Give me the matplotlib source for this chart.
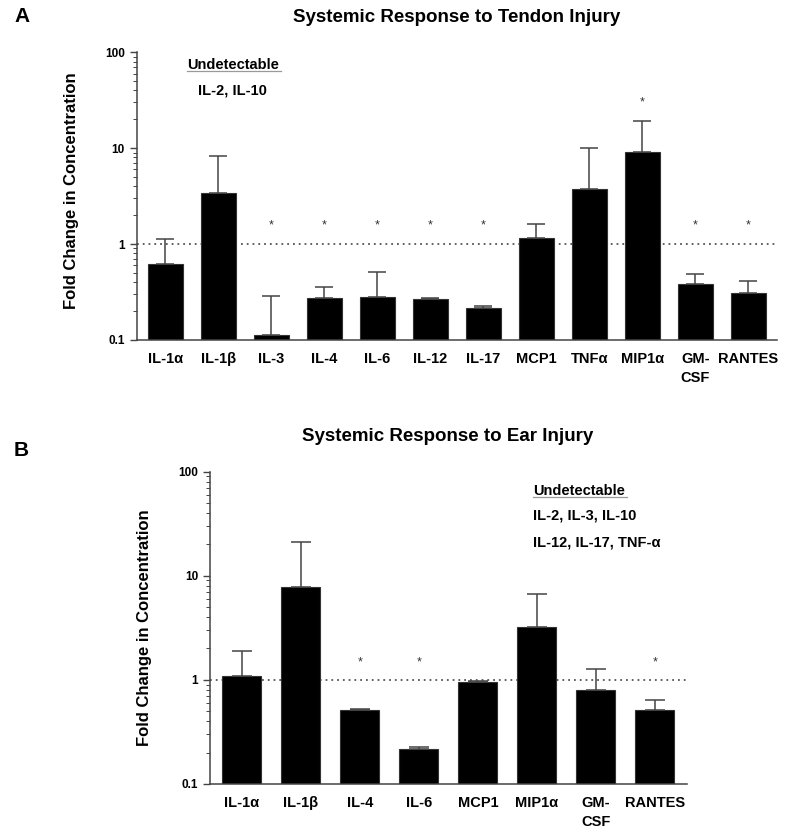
import numpy as np
import matplotlib.pyplot as plt
from matplotlib.lines import Line2D

plt.rcParams['font.family'] = ['Liberation Sans', 'DejaVu Sans']
plt.rcParams['font.weight'] = 'bold'

# Panel A: tendon injury
cyto_a = ['IL-1α', 'IL-1β', 'IL-3', 'IL-4', 'IL-6', 'IL-12', 'IL-17',
          'MCP1', 'TNFα', 'MIP1α', 'GM-\nCSF', 'RANTES']
mean_a = [0.625, 3.43, 0.112, 0.274, 0.28, 0.264, 0.216, 1.17, 3.74, 9.1, 0.387, 0.309]
upper_a = [1.14, 8.26, 0.285, 0.354, 0.507, 0.274, 0.228, 1.63, 10.1, 19.3, 0.483, 0.412]
star_a = [False, False, True, True, True, True, True, False, False, True, True, True]
star_y_a = [1.57, 1.57, 1.57, 1.57, 1.57, 1.57, 1.57, 1.57, 1.57, 30, 1.57, 1.57]

# Panel B: ear injury
cyto_b = ['IL-1α', 'IL-1β', 'IL-4', 'IL-6', 'MCP1', 'MIP1α', 'GM-\nCSF', 'RANTES']
mean_b = [1.09, 7.79, 0.515, 0.217, 0.956, 3.21, 0.80, 0.51]
upper_b = [1.91, 20.9, 0.53, 0.227, 0.97, 6.67, 1.27, 0.638]
star_b = [False, False, True, True, False, False, False, True]
star_y_b = [1.48] * 8


def panel(ax, names, mean, upper, stars, star_y, cap):
    x = np.arange(len(names))
    mean = np.array(mean)
    err = np.array(upper) - mean
    ax.bar(x, mean, width=0.66, color='black', edgecolor='#333333', linewidth=0.8)
    ax.errorbar(x, mean, yerr=[np.zeros_like(err), err], fmt='none',
                ecolor='#444444', elinewidth=1.1, capsize=cap, capthick=1.1)
    ax.axhline(1, color='#555555', linestyle=(0, (1, 2.2)), linewidth=1.3, zorder=0)
    for xi, s, sy in zip(x, stars, star_y):
        if s:
            ax.text(xi, sy, '*', ha='center', va='center', fontsize=9,
                    color='#333333', fontweight='normal')
    ax.set_yscale('log')
    ax.set_ylim(0.1, 100)
    ax.set_xlim(-0.54, len(names) - 0.46)
    ax.set_yticks([0.1, 1, 10, 100])
    ax.set_yticklabels(['0.1', '1', '10', '100'], fontsize=8.5, fontweight='bold')
    ax.set_xticks(x)
    ax.set_xticklabels(names, fontsize=10.5, fontweight='bold', linespacing=1.45,
                       va='top')
    ax.tick_params(axis='x', length=0, pad=9)
    ax.tick_params(axis='y', which='major', length=5, width=1, color='#444444')
    ax.tick_params(axis='y', which='minor', length=3, width=0.7, color='#444444')
    for sp in ['top', 'right']:
        ax.spines[sp].set_visible(False)
    for sp in ['left', 'bottom']:
        ax.spines[sp].set_color('#444444')
        ax.spines[sp].set_linewidth(1.1)
    ax.set_ylabel('Fold Change in Concentration', fontsize=12, fontweight='bold')


fig = plt.figure(figsize=(8, 8.31), dpi=100)
ax_a = fig.add_axes([0.171, 0.591, 0.80, 0.346])
ax_b = fig.add_axes([0.2625, 0.0566, 0.596, 0.376])

panel(ax_a, cyto_a, mean_a, upper_a, star_a, star_y_a, 6.5)
panel(ax_b, cyto_b, mean_b, upper_b, star_b, star_y_b, 7)
ax_a.yaxis.set_label_coords(-0.09, 0.52)
ax_b.yaxis.set_label_coords(-0.122, 0.5)

fig.text(0.571, 1 - 17 / 831, 'Systemic Response to Tendon Injury',
         ha='center', va='center', fontsize=13.5, fontweight='bold')
fig.text(0.56, 1 - 437 / 831, 'Systemic Response to Ear Injury',
         ha='center', va='center', fontsize=13.5, fontweight='bold')
fig.text(14 / 800, 1 - 17 / 831, 'A', ha='left', va='center', fontsize=15, fontweight='bold')
fig.text(14 / 800, 1 - 450 / 831, 'B', ha='left', va='center', fontsize=15, fontweight='bold')

# undetectable notes
ua = ax_a.text(0.15, 0.955, 'Undetectable', transform=ax_a.transAxes,
               ha='center', va='center', fontsize=10.5, fontweight='bold')
ax_a.text(0.15, 0.868, 'IL-2, IL-10', transform=ax_a.transAxes,
          ha='center', va='center', fontsize=10.5, fontweight='bold')
ub = ax_b.text(0.677, 0.938, 'Undetectable', transform=ax_b.transAxes,
               ha='left', va='center', fontsize=10.5, fontweight='bold')
ax_b.text(0.677, 0.858, 'IL-2, IL-3, IL-10', transform=ax_b.transAxes,
          ha='left', va='center', fontsize=10.5, fontweight='bold')
ax_b.text(0.677, 0.772, 'IL-12, IL-17, TNF-α', transform=ax_b.transAxes,
          ha='left', va='center', fontsize=10.5, fontweight='bold')

fig.canvas.draw()
for t in (ua, ub):
    bb = t.get_window_extent()
    y0 = bb.y0 + 1
    fig.add_artist(Line2D([bb.x0 / fig.bbox.width, (bb.x1 + 2) / fig.bbox.width],
                          [y0 / fig.bbox.height, y0 / fig.bbox.height],
                          color='#999999', linewidth=0.9))

fig.savefig('out.png', dpi=100)
